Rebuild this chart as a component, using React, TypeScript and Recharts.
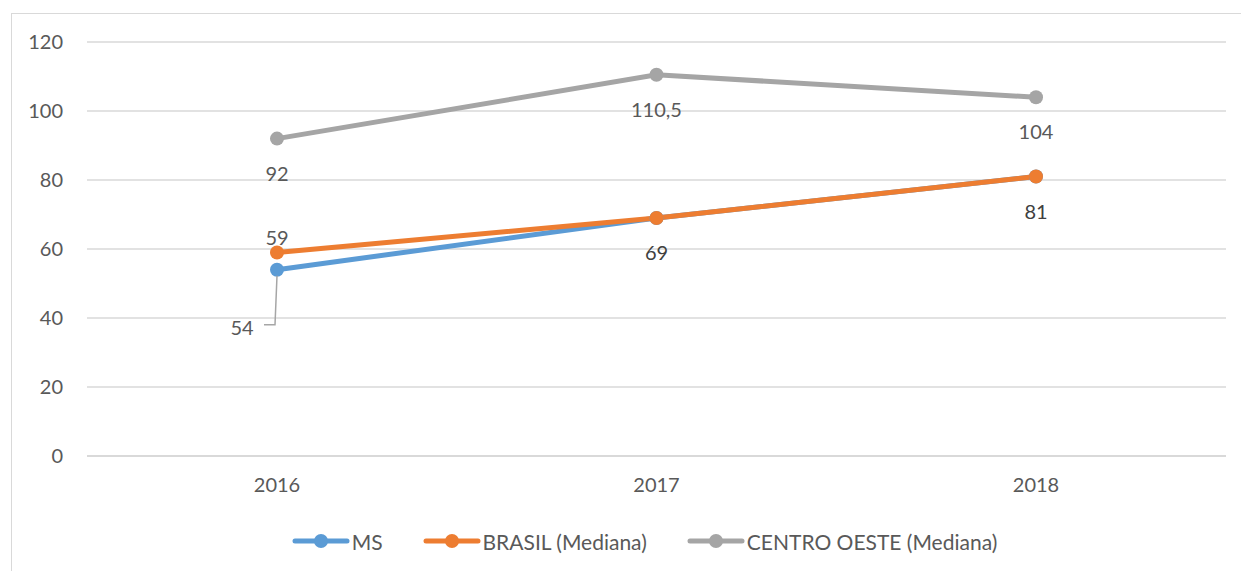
import React from 'react';
import { LineChart, Line, XAxis, YAxis, CartesianGrid, Legend, LabelList } from 'recharts';

const years = ['2016', '2017', '2018'];
const msValues = [54, 69, 81];
const brasilValues = [59, 69, 81];
const centroOesteValues = [92, 110.5, 104];
const yTicks = [0, 20, 40, 60, 80, 100, 120];

const data = years.map((year, i) => ({
  year,
  ms: msValues[i],
  brasil: brasilValues[i],
  centro: centroOesteValues[i],
}));

const COLORS = {
  ms: '#5B9BD5',
  brasil: '#ED7D31',
  centro: '#A5A5A5',
  text: '#595959',
  grid: '#d9d9d9',
};

const FONT = 'Lato, "Open Sans", sans-serif';

const fmt = (v: number) => String(v).replace('.', ',');

// label offsets per point (dy from the point center)
const centroLabel = (props: any) => {
  const { x, y, value } = props;
  return (
    <text x={x} y={y + 34} textAnchor="middle" dominantBaseline="central" fill={COLORS.text} fontSize={20} fontFamily={FONT}>
      {fmt(value)}
    </text>
  );
};

const brasilLabel = (props: any) => {
  const { x, y, value, index } = props;
  const dy = index === 0 ? -15 : 34;
  const fill = index === 0 ? COLORS.text : '#404040';
  return (
    <text x={x} y={y + dy} textAnchor="middle" dominantBaseline="central" fill={fill} fontSize={20} fontFamily={FONT}>
      {fmt(value)}
    </text>
  );
};

const msLabel = (props: any) => {
  const { x, y, value, index } = props;
  if (index !== 0) return null;
  return (
    <g>
      <path d={`M${x},${y + 6} L${x - 2},${y + 55} L${x - 13},${y + 55}`} fill="none" stroke="#a6a6a6" strokeWidth={1.5} />
      <text x={x - 35} y={y + 57} textAnchor="middle" dominantBaseline="central" fill={COLORS.text} fontSize={20} fontFamily={FONT}>
        {fmt(value)}
      </text>
    </g>
  );
};

const legendItems = [
  { name: 'MS', color: COLORS.ms },
  { name: 'BRASIL (Mediana)', color: COLORS.brasil },
  { name: 'CENTRO OESTE (Mediana)', color: COLORS.centro },
];

const CustomLegend = () => (
  <div style={{ height: 50, display: 'flex', justifyContent: 'center', alignItems: 'center', gap: 40, fontFamily: FONT, fontSize: 21, color: COLORS.text, paddingLeft: 36 }}>
    {legendItems.map((item) => (
      <div key={item.name} style={{ display: 'flex', alignItems: 'center' }}>
        <svg width={58} height={16} style={{ marginRight: 2 }}>
          <line x1={3} y1={8} x2={55} y2={8} stroke={item.color} strokeWidth={5} strokeLinecap="round" />
          <circle cx={29} cy={8} r={7} fill={item.color} />
        </svg>
        <span>{item.name}</span>
      </div>
    ))}
  </div>
);

export default function App() {
  return (
    <div style={{ position: 'absolute', left: 0, top: 0, width: 1241, height: 571, overflow: 'hidden', background: '#fff' }}>
      <div style={{ position: 'absolute', left: 11, top: 13, width: 1300, height: 700, border: '1.5px solid #d9d9d9' }} />
      <div style={{ position: 'absolute', left: 0, top: 0 }}>
        <LineChart width={1241} height={571} data={data} margin={{ top: 42, right: 15, left: 27, bottom: 5 }}>
          <CartesianGrid vertical={false} stroke={COLORS.grid} strokeWidth={1.5} />
          <XAxis
            dataKey="year"
            padding={{ left: 190, right: 190 }}
            height={60}
            tickSize={0}
            tickMargin={22}
            axisLine={{ stroke: COLORS.grid, strokeWidth: 2 }}
            tick={{ fill: COLORS.text, fontSize: 20, fontFamily: FONT }}
          />
          <YAxis
            width={60}
            domain={[0, 120]}
            ticks={yTicks}
            tickSize={0}
            tickMargin={24}
            axisLine={false}
            tick={{ fill: COLORS.text, fontSize: 20, fontFamily: FONT }}
          />
          <Legend verticalAlign="bottom" content={<CustomLegend />} />
          <Line dataKey="centro" name="CENTRO OESTE (Mediana)" stroke={COLORS.centro} strokeWidth={5} dot={{ r: 7, fill: COLORS.centro, stroke: COLORS.centro, strokeWidth: 0 }} isAnimationActive={false}>
            <LabelList dataKey="centro" content={centroLabel} />
          </Line>
          <Line dataKey="ms" name="MS" stroke={COLORS.ms} strokeWidth={5} dot={{ r: 7, fill: COLORS.ms, stroke: COLORS.ms, strokeWidth: 0 }} isAnimationActive={false}>
            <LabelList dataKey="ms" content={msLabel} />
          </Line>
          <Line dataKey="brasil" name="BRASIL (Mediana)" stroke={COLORS.brasil} strokeWidth={5} dot={{ r: 7, fill: COLORS.brasil, stroke: COLORS.brasil, strokeWidth: 0 }} isAnimationActive={false}>
            <LabelList dataKey="brasil" content={brasilLabel} />
          </Line>
        </LineChart>
      </div>
    </div>
  );
}
